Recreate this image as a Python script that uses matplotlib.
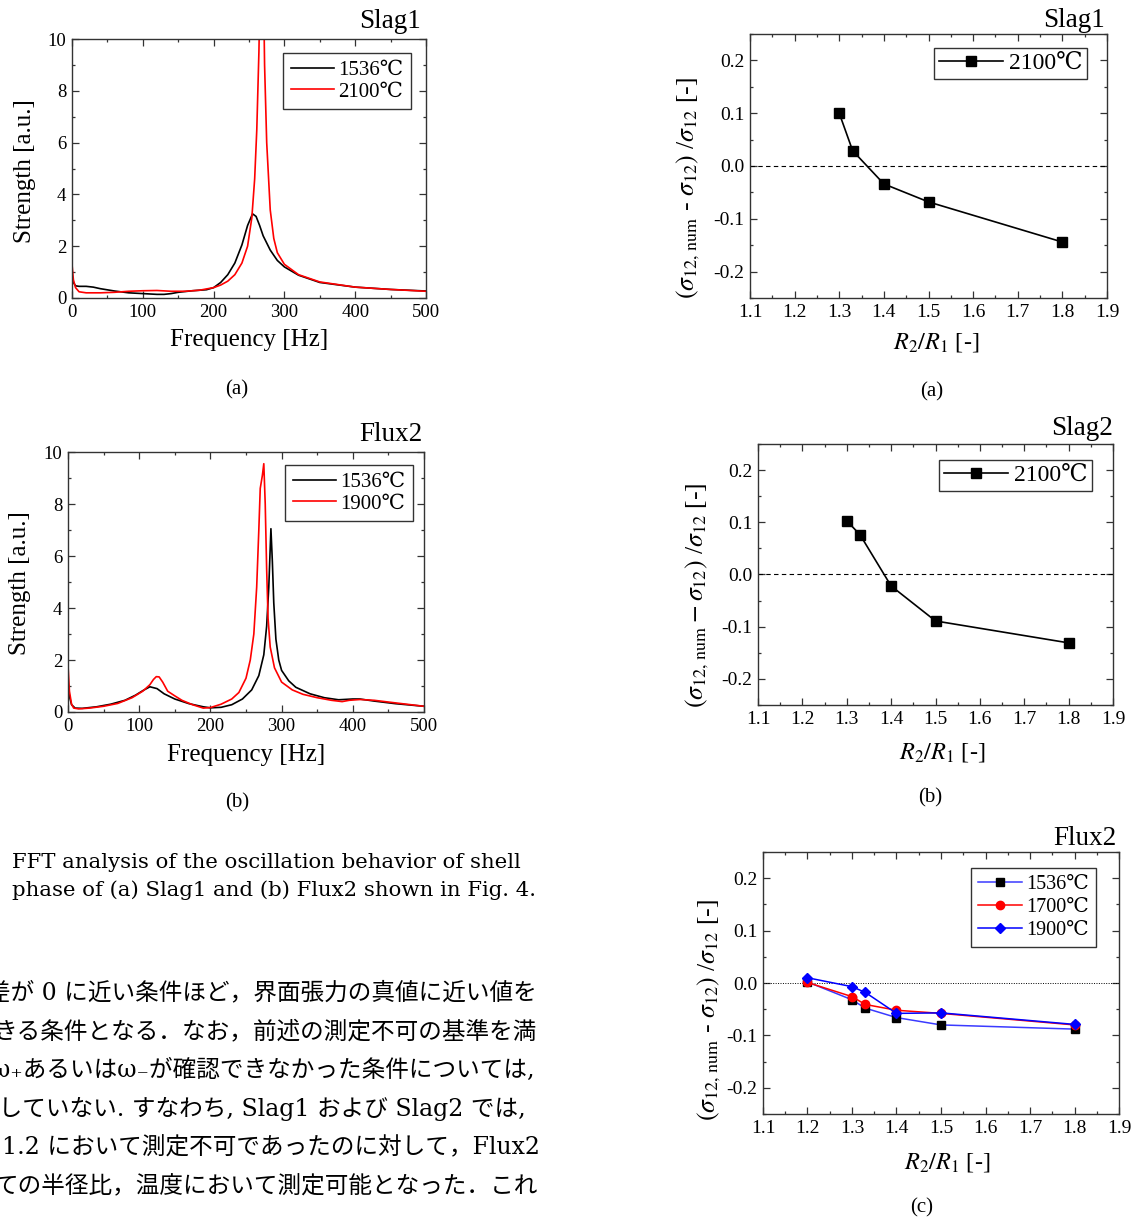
import matplotlib
matplotlib.use("Agg")
import matplotlib.pyplot as plt
from matplotlib.ticker import MultipleLocator, FormatStrFormatter

# ---------------------------------------------------------------------------
# data

# FFT spectra, Slag1
slag1_freq_1536 = [0, 2, 5, 10, 20, 30, 40, 60, 80, 100, 120, 130, 140, 150, 170, 190,
                   200, 210, 220, 230, 240, 248, 255, 260, 265, 270, 280, 290, 300, 320,
                   350, 400, 450, 500]
slag1_str_1536 = [0.85, 0.6, 0.47, 0.45, 0.45, 0.42, 0.36, 0.27, 0.2, 0.17, 0.14, 0.14, 0.17,
                  0.22, 0.28, 0.32, 0.4, 0.6, 0.9, 1.35, 2.05, 2.8, 3.25, 3.15, 2.8, 2.4,
                  1.85, 1.45, 1.2, 0.88, 0.6, 0.42, 0.33, 0.27]
slag1_freq_2100 = [0, 2, 5, 10, 20, 40, 60, 80, 100, 120, 140, 160, 180, 200, 210, 220, 230,
                   240, 248, 254, 258, 261, 264, 267, 270, 272, 275, 280, 285, 290, 300, 320,
                   350, 400, 450, 500]
slag1_str_2100 = [1.3, 0.7, 0.4, 0.24, 0.2, 0.2, 0.22, 0.26, 0.28, 0.29, 0.26, 0.26, 0.3, 0.4,
                  0.5, 0.65, 0.9, 1.35, 2.0, 3.1, 4.6, 6.5, 9.5, 14.0, 13.0, 9.0, 6.0, 3.4,
                  2.3, 1.75, 1.3, 0.9, 0.62, 0.42, 0.33, 0.26]

# FFT spectra, Flux2
flux2_freq_1536 = [0, 2, 5, 10, 20, 40, 60, 80, 95, 105, 115, 125, 135, 150, 170, 190, 200,
                   215, 230, 245, 258, 268, 275, 279, 282, 285, 287, 289, 292, 296, 300, 310,
                   320, 340, 360, 380, 400, 410, 430, 460, 500]
flux2_str_1536 = [1.1, 0.6, 0.28, 0.15, 0.14, 0.2, 0.3, 0.45, 0.65, 0.82, 0.97, 0.9, 0.7,
                  0.5, 0.32, 0.2, 0.16, 0.18, 0.28, 0.5, 0.85, 1.4, 2.2, 3.3, 4.8, 7.05, 5.8,
                  4.2, 2.8, 2.0, 1.6, 1.2, 0.95, 0.7, 0.55, 0.47, 0.5, 0.5, 0.42, 0.32, 0.22]
flux2_freq_1900 = [0, 2, 5, 8, 15, 30, 50, 70, 90, 105, 115, 120, 124, 128, 133, 140, 150,
                   160, 175, 190, 200, 215, 230, 240, 250, 256, 261, 265, 268, 270, 273, 275,
                   277, 279, 281, 284, 290, 300, 315, 330, 350, 370, 385, 395, 410, 430, 460,
                   500]
flux2_str_1900 = [1.8, 0.8, 0.3, 0.15, 0.12, 0.15, 0.22, 0.33, 0.55, 0.8, 1.05, 1.25, 1.36,
                  1.35, 1.15, 0.8, 0.62, 0.45, 0.28, 0.15, 0.17, 0.3, 0.5, 0.75, 1.3, 2.0,
                  3.0, 4.8, 7.0, 8.6, 9.1, 9.55, 8.0, 5.5, 3.6, 2.5, 1.7, 1.15, 0.85, 0.68,
                  0.55, 0.45, 0.4, 0.45, 0.48, 0.45, 0.35, 0.22]

# relative error of interfacial tension vs radius ratio
ratio_slag = [1.3, 1.33, 1.4, 1.5, 1.8]
err_slag1_2100 = [0.100, 0.029, -0.034, -0.068, -0.144]
err_slag2_2100 = [0.103, 0.076, -0.022, -0.089, -0.131]

ratio_flux = [1.2, 1.3, 1.33, 1.4, 1.5, 1.8]
err_flux2_1536 = [0.002, -0.032, -0.048, -0.066, -0.080, -0.088]
err_flux2_1700 = [0.001, -0.026, -0.041, -0.052, -0.058, -0.080]
err_flux2_1900 = [0.010, -0.007, -0.018, -0.058, -0.057, -0.079]

caption = ["FFT analysis of the oscillation behavior of shell",
           "phase of (a) Slag1 and (b) Flux2 shown in Fig. 4."]
body = ["差が 0 に近い条件ほど，界面張力の真値に近い値を",
        "きる条件となる．なお，前述の測定不可の基準を満",
        "ω₊あるいはω₋が確認できなかった条件については,",
        "示していない. すなわち, Slag1 および Slag2 では,",
        "1.2 において測定不可であったのに対して，Flux2",
        "ての半径比，温度において測定可能となった．これ"]
body_right = [537, 537, 535, 526, 537, 537]

# ---------------------------------------------------------------------------

plt.rcParams['font.family'] = ['Liberation Serif', 'DejaVu Serif', 'Noto Sans CJK JP']
plt.rcParams['mathtext.fontset'] = 'stix'
plt.rcParams['axes.unicode_minus'] = False

W, H = 1131, 1221
fig = plt.figure(figsize=(W / 100, H / 100), dpi=100)


def box(l, t, r, b):
    # pixel box -> figure fraction rect
    return [l / W, 1 - b / H, (r - l) / W, (b - t) / H]


def put(x, y, s, **kw):
    fig.text(x / W, 1 - y / H, s, **kw)


def style(ax, xmaj, xmin, ymaj, ymin, size, fmt=None):
    ax.xaxis.set_major_locator(MultipleLocator(xmaj))
    ax.xaxis.set_minor_locator(MultipleLocator(xmin))
    ax.yaxis.set_major_locator(MultipleLocator(ymaj))
    ax.yaxis.set_minor_locator(MultipleLocator(ymin))
    if fmt:
        ax.xaxis.set_major_formatter(FormatStrFormatter(fmt))
        ax.yaxis.set_major_formatter(FormatStrFormatter(fmt))
    ax.tick_params(which='both', direction='in', top=True, right=True,
                   labelsize=size, pad=4, color='#333333')
    ax.tick_params(which='major', length=5, width=0.9)
    ax.tick_params(which='minor', length=2.5, width=0.9)
    for sp in ax.spines.values():
        sp.set_linewidth(1.0)
        sp.set_color('#333333')


def legend(ax, right, top, size, textpad=0.2, **kw):
    leg = ax.legend(loc='upper right', bbox_to_anchor=(right / W, 1 - top / H),
                    bbox_transform=fig.transFigure, borderaxespad=0, fancybox=False,
                    framealpha=1, edgecolor='#333333', fontsize=size,
                    handletextpad=textpad, numpoints=1, **kw)
    leg.get_frame().set_linewidth(1.0)


# ---- FFT, Slag1 -----------------------------------------------------------
ax = fig.add_axes(box(72, 39, 426, 298))
ax.plot(slag1_freq_1536, slag1_str_1536, color='k', lw=1.2, label='1536℃')
ax.plot(slag1_freq_2100, slag1_str_2100, color='#ff0000', lw=1.2, label='2100℃')
ax.set_xlim(0, 500)
ax.set_ylim(0, 10)
style(ax, 100, 50, 2, 1, 13.5)
legend(ax, 411, 53, 15, handlelength=2.1, labelspacing=0.1, borderpad=0.35)
put(421, 28, 'Slag1', fontsize=19.5, ha='right', va='baseline')
put(25, 171, 'Strength [a.u.]', fontsize=18, rotation=90, ha='center', va='center')
put(249, 340, 'Frequency [Hz]', fontsize=18, ha='center', va='center')
put(237, 390, '(a)', fontsize=15, ha='center', va='center')

# ---- FFT, Flux2 -----------------------------------------------------------
ax = fig.add_axes(box(68, 452, 424, 712))
ax.plot(flux2_freq_1536, flux2_str_1536, color='k', lw=1.2, label='1536℃')
ax.plot(flux2_freq_1900, flux2_str_1900, color='#ff0000', lw=1.2, label='1900℃')
ax.set_xlim(0, 500)
ax.set_ylim(0, 10)
style(ax, 100, 50, 2, 1, 13.5)
legend(ax, 413, 465, 15, handlelength=2.1, labelspacing=0.1, borderpad=0.35)
put(423, 441, 'Flux2', fontsize=19.5, ha='right', va='baseline')
put(20, 583, 'Strength [a.u.]', fontsize=18, rotation=90, ha='center', va='center')
put(246, 755, 'Frequency [Hz]', fontsize=18, ha='center', va='center')
put(237, 803, '(b)', fontsize=15, ha='center', va='center')

# ---- caption and body text --------------------------------------------------
cap_font = ['DejaVu Serif', 'Noto Sans CJK JP']
put(12, 862, caption[0], fontsize=15.3, family=cap_font, ha='left', va='center')
put(12, 890, caption[1], fontsize=15.3, family=cap_font, ha='left', va='center')
for i, line in enumerate(body):
    y = 993 + 38.8 * i
    if line.startswith('1.2'):
        put(2, y, line, fontsize=17, family=cap_font, ha='left', va='center')
    else:
        put(body_right[i], y, line, fontsize=17, family=cap_font, ha='right', va='center')

# ---- error vs radius ratio ------------------------------------------------
ylab_a = r'$(\sigma_{\mathrm{12,\,num}}$ - $\sigma_{\mathrm{12}})$ /$\sigma_{\mathrm{12}}$ [-]'
ylab_b = r'$(\sigma_{\mathrm{12,\,num}} - \sigma_{\mathrm{12}})$ /$\sigma_{\mathrm{12}}$ [-]'
xlab = r'$R_2/R_1$ [-]'

panels = [
    ((750, 34, 1107, 298), 'Slag1', (1105, 27), err_slag1_2100, ylab_a,
     (688, 188), 936, 343, (932, 392, '(a)'), (1087, 48)),
    ((758, 444, 1113, 705), 'Slag2', (1113, 435), err_slag2_2100, ylab_b,
     (697, 595), 942, 752, (930, 798, '(b)'), (1092, 460)),
]
for pix, name, tpos, err, ylab, ypos, xlx, xly, sub, lpos in panels:
    ax = fig.add_axes(box(*pix))
    ax.axhline(0, color='k', lw=0.8, ls=(0, (4, 3)))
    ax.plot(ratio_slag, err, color='k', lw=1.2, marker='s', ms=6.5, label='2100℃')
    ax.set_xlim(1.1, 1.9)
    ax.set_ylim(-0.25, 0.25)
    style(ax, 0.1, 0.05, 0.1, 0.05, 14, '%.1f')
    legend(ax, lpos[0], lpos[1], 17, textpad=0.25, handlelength=2.7, borderpad=0.2)
    put(tpos[0], tpos[1], name, fontsize=19.5, ha='right', va='baseline')
    put(ypos[0], ypos[1], ylab, fontsize=18.5, rotation=90, ha='center', va='center')
    put(xlx, xly, xlab, fontsize=17.5, ha='center', va='center')
    put(sub[0], sub[1], sub[2], fontsize=15, ha='center', va='center')

# Flux2, three temperatures
ax = fig.add_axes(box(763, 852, 1119, 1114))
ax.axhline(0, color='k', lw=0.7, ls=(0, (1, 1.5)))
ax.plot(ratio_flux, err_flux2_1536, color='#3a3aff', lw=1.1, marker='s', ms=5.5,
        mfc='k', mec='k', label='1536℃')
ax.plot(ratio_flux, err_flux2_1700, color='#ff0000', lw=1.1, marker='o', ms=6,
        label='1700℃')
ax.plot(ratio_flux, err_flux2_1900, color='#0000ff', lw=1.1, marker='D', ms=5.5,
        label='1900℃')
ax.set_xlim(1.1, 1.9)
ax.set_ylim(-0.25, 0.25)
style(ax, 0.1, 0.05, 0.1, 0.05, 14, '%.1f')
legend(ax, 1096, 868, 14.5, handlelength=2.2, labelspacing=0.2, borderpad=0.35)
put(1117, 845, 'Flux2', fontsize=19.5, ha='right', va='baseline')
put(709, 1010, ylab_a, fontsize=18.5, rotation=90, ha='center', va='center')
put(947, 1162, xlab, fontsize=17.5, ha='center', va='center')
put(922, 1208, '(c)', fontsize=15, ha='center', va='center')

fig.savefig('out.png', dpi=100)
